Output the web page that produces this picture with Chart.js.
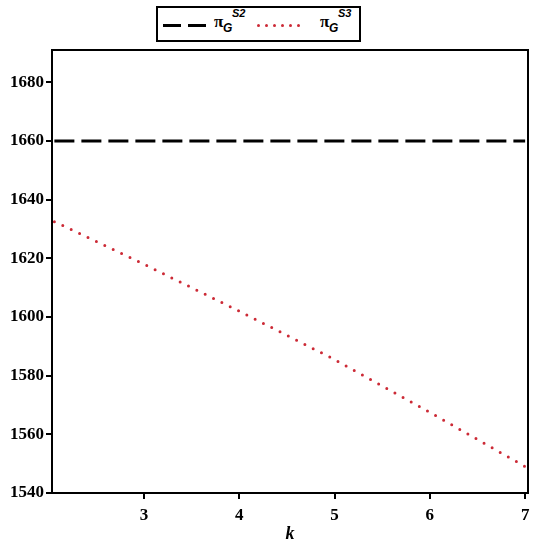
<!DOCTYPE html>
<html>
<head>
<meta charset="utf-8">
<script src="https://cdn.jsdelivr.net/npm/chart.js@4/dist/chart.umd.min.js"></script>
<style>
  html, body { margin: 0; padding: 0; background: #fff; }
  #wrap { position: relative; width: 544px; height: 550px; }
  #legend { position: absolute; left: 156px; top: 6px; width: 201px; height: 32px;
            border: 2px solid #000; background: #fff; }
  .samp { position: absolute; top: 16px; height: 0; }
  .dot { position: absolute; top: 16px; width: 3px; height: 3px; border-radius: 50%; background: #cc2a36; }
  .lab { position: absolute; top: 4px; font-family: "Liberation Serif", serif; font-size: 17px; font-weight: bold; color: #000; }
  .lab .g { position: absolute; left: 9px; top: 9px; font-family: "Liberation Sans", sans-serif; font-style: italic; font-weight: bold; font-size: 12px; }
  .lab .s { position: absolute; left: 18px; top: -5px; font-family: "Liberation Sans", sans-serif; font-style: italic; font-weight: bold; font-size: 11px; }
</style>
</head>
<body>
<div id="wrap">
  <canvas id="c" width="544" height="550"></canvas>
  <div id="legend">
    <div class="samp" style="left:5px; width:18px; border-top:3px solid #000;"></div>
    <div class="samp" style="left:30px; width:18px; border-top:3px solid #000;"></div>
    <div class="lab" style="left:56px;">π<span class="g">G</span><span class="s">S2</span></div>
    <div class="dot" style="left:99px;"></div>
    <div class="dot" style="left:107px;"></div>
    <div class="dot" style="left:115px;"></div>
    <div class="dot" style="left:123px;"></div>
    <div class="dot" style="left:131px;"></div>
    <div class="dot" style="left:139px;"></div>
    <div class="lab" style="left:162px;">π<span class="g">G</span><span class="s">S3</span></div>
  </div>
</div>
<script>
// ---- data ----
const kValues = [2.06, 3, 4, 5, 6, 7];
const piS2 = [1660, 1660, 1660, 1660, 1660, 1660];
const piS3 = [1632.5, 1618, 1602, 1585.5, 1567.5, 1549];
const xTicks = [3, 4, 5, 6, 7];
const yTicks = [1540, 1560, 1580, 1600, 1620, 1640, 1660, 1680];
const seriesLabels = ['πG S2', 'πG S3'];

const frame = {
  id: 'frame',
  afterDraw(chart) {
    const {ctx, chartArea: a} = chart;
    ctx.save();
    ctx.strokeStyle = '#000';
    ctx.lineWidth = 2;
    ctx.strokeRect(a.left, a.top, a.right - a.left, a.bottom - a.top);
    ctx.restore();
  }
};

const tickFont = { family: '"Liberation Serif", serif', size: 17, weight: 'bold' };

new Chart(document.getElementById('c'), {
  type: 'line',
  data: {
    datasets: [
      {
        label: seriesLabels[0],
        data: kValues.map((k, i) => ({ x: k, y: piS2[i] })),
        borderColor: '#000',
        borderWidth: 3,
        borderDash: [20, 7],
        pointRadius: 0,
        fill: false
      },
      {
        label: seriesLabels[1],
        data: kValues.map((k, i) => ({ x: k, y: piS3[i] })),
        borderColor: '#cc2a36',
        borderWidth: 3,
        borderDash: [0, 9.3],
        borderCapStyle: 'round',
        pointRadius: 0,
        tension: 0,
        fill: false
      }
    ]
  },
  plugins: [frame],
  options: {
    responsive: false,
    animation: false,
    layout: { padding: { top: 50, right: 16, left: 0, bottom: 0 } },
    plugins: { legend: { display: false }, tooltip: { enabled: false } },
    scales: {
      x: {
        type: 'linear',
        min: 2.035,
        max: 7.03,
        afterBuildTicks: (ax) => { ax.ticks = xTicks.map(v => ({ value: v })); },
        afterFit: (ax) => { ax.height = 57; },
        grid: { display: true, drawOnChartArea: false, drawTicks: true, tickLength: 6, color: '#000', lineWidth: 2 },
        border: { display: true, color: '#000', width: 2 },
        ticks: { color: '#000', font: tickFont, padding: 6, maxRotation: 0, autoSkip: false,
                 callback: (v) => String(v) },
        title: { display: true, text: 'k', color: '#000', padding: { top: 0, bottom: 5 },
                 font: { family: '"Liberation Serif", serif', size: 18, weight: 'bold', style: 'italic' } }
      },
      y: {
        min: 1540,
        max: 1691,
        afterBuildTicks: (ax) => { ax.ticks = yTicks.map(v => ({ value: v })); },
        afterFit: (ax) => { ax.width = 52; },
        grid: { display: true, drawOnChartArea: false, drawTicks: true, tickLength: 6, color: '#000', lineWidth: 2 },
        border: { display: true, color: '#000', width: 2 },
        ticks: { color: '#000', font: tickFont, padding: 2, autoSkip: false,
                 callback: (v) => String(v) }
      }
    }
  }
});
</script>
</body>
</html>
